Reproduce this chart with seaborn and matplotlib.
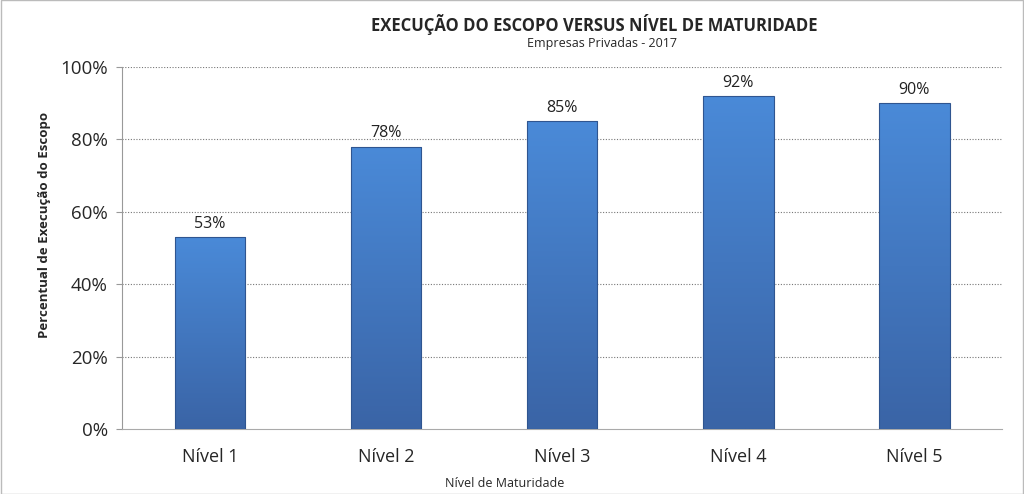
import numpy as np
import pandas as pd
import seaborn as sns
from matplotlib import pyplot as plt
from matplotlib.patches import Rectangle
from matplotlib.colors import LinearSegmentedColormap

niveis = ["Nível 1", "Nível 2", "Nível 3", "Nível 4", "Nível 5"]
percentuais = [53, 78, 85, 92, 90]
yticks = [0, 20, 40, 60, 80, 100]

sns.set_style("white")
plt.rcParams['font.family'] = ['Open Sans', 'DejaVu Sans']

df = pd.DataFrame({"nivel": niveis, "pct": percentuais})

fig = plt.figure(figsize=(10.24, 4.94), dpi=100)
ax = fig.add_axes([0.119, 0.1316, 0.860, 0.7328])

sns.barplot(data=df, x="nivel", y="pct", color="#3f74c0", width=0.4,
            saturation=1, ax=ax, zorder=2)

# vertical gradient on each bar, lighter on top
cmap = LinearSegmentedColormap.from_list("azul", ["#3a64a6", "#4a8ad8"])
grad = np.linspace(0, 1, 256).reshape(-1, 1)
for p in ax.patches:
    x0, y0 = p.get_x(), p.get_y()
    w, h = p.get_width(), p.get_height()
    im = ax.imshow(grad, extent=[x0, x0 + w, y0, y0 + h], origin="lower",
                   cmap=cmap, aspect="auto", zorder=3)
    im.set_clip_path(p)
    ax.add_patch(Rectangle((x0, y0), w, h, fill=False, edgecolor="#2f5590",
                           linewidth=0.8, zorder=4))
    ax.text(x0 + w / 2, y0 + h + 1.5, f"{h:.0f}%", ha="center", va="bottom",
            fontsize=11.5, color="#222222", zorder=5)

ax.set_xlim(-0.5, 4.5)
ax.set_ylim(0, 100)
ax.set_yticks(yticks)
ax.set_yticklabels([f"{v}%" for v in yticks], fontsize=13.5)
ax.tick_params(axis="x", labelsize=13, length=0, pad=14)
ax.tick_params(axis="y", length=4, color="#999999", direction="out", left=True, pad=6)
for v in yticks[1:]:
    ax.axhline(v, color="#777777", linestyle=(0, (1, 1.5)), linewidth=0.8, zorder=1)

for s in ["top", "right"]:
    ax.spines[s].set_visible(False)
ax.spines["left"].set_color("#999999")
ax.spines["bottom"].set_color("#aaaaaa")

ax.set_xlabel("Nível de Maturidade", fontsize=9)
ax.xaxis.set_label_coords(0.435, -0.133)
ax.set_ylabel("Percentual de Execução do Escopo", fontsize=9.5, fontweight="bold")
ax.yaxis.set_label_coords(-0.08, 0.564)

fig.text(0.58, 0.951, "EXECUÇÃO DO ESCOPO VERSUS NÍVEL DE MATURIDADE",
         ha="center", va="center", fontsize=12, fontweight="bold")
fig.text(0.5875, 0.912, "Empresas Privadas - 2017", ha="center", va="center",
         fontsize=9)

fig.patches.append(Rectangle((0.001, 0.001), 0.998, 0.998, transform=fig.transFigure,
                             fill=False, edgecolor="#bbbbbb", linewidth=1))

fig.savefig("out.png", dpi=100)
